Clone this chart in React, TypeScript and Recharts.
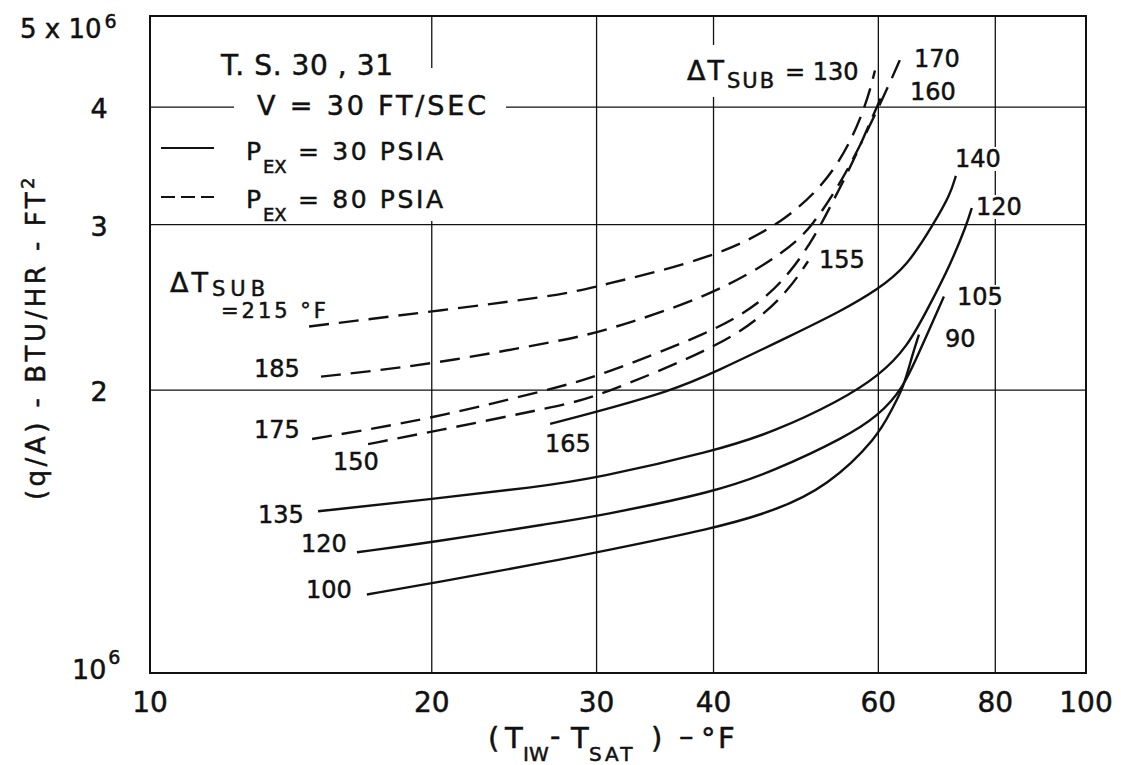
import React from 'react';
import { LineChart, Line, XAxis, YAxis, CartesianGrid } from 'recharts';

const W = 1121;
const H = 765;
const font = "'DejaVu Sans', sans-serif";

// axes: (T_IW - T_SAT) in deg F, q/A in units of 10^6 BTU/HR-FT^2
const xTicks = [10, 20, 30, 40, 60, 80, 100];
const yTicks = [1, 2, 3, 4, 5];

// P_EX = 30 PSIA (solid); names give subcooling at the start -> end of each curve
const x100 = [17.05, 19.96, 27.42, 30, 40.05, 46.4, 53, 59.95, 62.03, 63.76, 65.2, 66.3];
const q100 = [1.212, 1.245, 1.32, 1.344, 1.425, 1.486, 1.58, 1.783, 1.91, 2.006, 2.176, 2.291];

const x120 = [16.64, 19.96, 27.22, 30, 40.05, 46.4, 55.4, 59.95, 63.76, 66.6, 70.5];
const q120 = [1.344, 1.377, 1.446, 1.468, 1.557, 1.64, 1.783, 1.877, 2.006, 2.214, 2.515];

const x135 = [15.12, 19.96, 25.85, 30, 40.05, 46.4, 54.6, 60.1, 64.4, 67.96, 71.6, 74.6, 75.5];
const q135 = [1.486, 1.531, 1.577, 1.612, 1.722, 1.805, 1.948, 2.072, 2.219, 2.455, 2.716, 3.003, 3.124];

const x165 = [26.76, 30, 36.03, 40.05, 48.63, 54.6, 59.95, 64.4, 68.6, 71.6, 72.6];
const q165 = [1.841, 1.896, 1.996, 2.087, 2.291, 2.424, 2.559, 2.709, 2.995, 3.226, 3.38];

// P_EX = 80 PSIA (dashed)
const x215 = [14.79, 19.96, 27.42, 30, 40.05, 47.93, 54.2, 58.07, 59.5];
const q215 = [2.337, 2.424, 2.522, 2.578, 2.763, 3.025, 3.421, 3.976, 4.375];

const x185 = [15.23, 19.96, 27.42, 30, 40.05, 47.93, 51.09, 54.6, 57.35, 59.8, 61.75, 63.3];
const q185 = [2.067, 2.128, 2.258, 2.297, 2.522, 2.81, 2.995, 3.314, 3.638, 3.965, 4.249, 4.495];

const x175 = [14.9, 19.96, 27.42, 30, 40.05, 44.84, 48.28, 51.35, 53.9, 56.66, 58.76, 60.54];
const q175 = [1.774, 1.863, 2.016, 2.067, 2.308, 2.474, 2.662, 2.915, 3.202, 3.533, 3.851, 4.115];

const x150 = [17.1, 19.96, 27.42, 30, 40.05, 44.84, 48.28, 50.47];
const q150 = [1.752, 1.805, 1.924, 1.967, 2.214, 2.383, 2.566, 2.742];

const pts = (xs: number[], ys: number[]) => xs.map((x, i) => ({ x, y: ys[i] }));

const solid = [
  { id: 's100', data: pts(x100, q100) },
  { id: 's120', data: pts(x120, q120) },
  { id: 's135', data: pts(x135, q135) },
  { id: 's165', data: pts(x165, q165) },
];
const dashed = [
  { id: 'd215', data: pts(x215, q215) },
  { id: 'd185', data: pts(x185, q185) },
  { id: 'd175', data: pts(x175, q175) },
  { id: 'd150', data: pts(x150, q150) },
];

// pen-lettering look: thin outline on the glyphs
const ink = { fill: '#111', stroke: '#111', strokeWidth: 0.5 };

function XTick({ x, payload }: any) {
  return (
    <text x={x} y={712} textAnchor="middle" fontSize={28} fontFamily={font} {...ink}>
      {payload.value}
    </text>
  );
}

function YTick({ y, payload }: any) {
  const v = payload.value;
  if (v === 5) {
    return (
      <text x={20} y={y + 22} fontSize={26} fontFamily={font} {...ink}>
        5 x 10<tspan dx={3} dy={-10} fontSize={19}>6</tspan>
      </text>
    );
  }
  if (v === 1) {
    return (
      <text x={72} y={y + 6} fontSize={27} fontFamily={font} {...ink}>
        10<tspan dx={2} dy={-15} fontSize={19}>6</tspan>
      </text>
    );
  }
  return (
    <text x={99} y={y + 11} textAnchor="middle" fontSize={27} fontFamily={font} {...ink}>
      {v}
    </text>
  );
}

const curveLabels = [
  { t: '185', x: 254, y: 377 },
  { t: '175', x: 254, y: 438 },
  { t: '150', x: 333, y: 470 },
  { t: '135', x: 258, y: 523 },
  { t: '120', x: 301, y: 552 },
  { t: '100', x: 306, y: 598 },
  { t: '165', x: 545, y: 452 },
  { t: '155', x: 819, y: 268 },
  { t: '170', x: 914, y: 67 },
  { t: '160', x: 910, y: 100 },
  { t: '140', x: 955, y: 167, bg: true },
  { t: '120', x: 976, y: 215, bg: true },
  { t: '105', x: 957, y: 305, bg: true },
  { t: '90', x: 945, y: 347 },
];

function Overlay() {
  return (
    <svg width={W} height={H} fontFamily={font} fill="#111"
      style={{ position: 'absolute', left: 0, top: 0, pointerEvents: 'none' }}>
      {/* blank areas behind the lettering, as on the drafted sheet */}
      <rect x={234} y={68} width={272} height={153} fill="#fff" />
      <rect x={684} y={45} width={176} height={52} fill="#fff" />
      {curveLabels.filter(l => l.bg).map((l, i) => (
        <rect key={i} x={l.x - 2} y={l.y - 20} width={46} height={24} fill="#fff" />
      ))}
      <rect x={150} y={16} width={936} height={657} fill="none" stroke="#111" strokeWidth={2} />

      <g {...ink}>
        <text x={221} y={75} fontSize={28} textLength={172} lengthAdjust="spacing">T. S. 30 , 31</text>
        <text x={257} y={115} fontSize={27} textLength={229} lengthAdjust="spacing">V = 30 FT/SEC</text>

        <text x={246} y={160} fontSize={25}>P</text>
        <text x={263} y={173} fontSize={18}>EX</text>
        <text x={298} y={160} fontSize={25} textLength={145} lengthAdjust="spacing">= 30 PSIA</text>

        <text x={246} y={208} fontSize={25}>P</text>
        <text x={263} y={221} fontSize={18}>EX</text>
        <text x={298} y={208} fontSize={25} textLength={145} lengthAdjust="spacing">= 80 PSIA</text>

        <text x={170} y={292} fontSize={27} letterSpacing={3}>ΔT</text>
        <text x={212} y={296} fontSize={21} letterSpacing={5}>SUB</text>
        <text x={221} y={318} fontSize={21} letterSpacing={3}>=215 °F</text>

        <text x={687} y={80} fontSize={27} letterSpacing={2}>ΔT</text>
        <text x={727} y={88} fontSize={21} letterSpacing={2}>SUB</text>
        <text x={785} y={80} fontSize={24}>= 130</text>

        {curveLabels.map((l, i) => (
          <text key={i} x={l.x} y={l.y} fontSize={24}>{l.t}</text>
        ))}

        <text transform="rotate(-90 45 337)" x={45} y={337} textAnchor="middle" fontSize={26} letterSpacing={3.5}>
          (q/A) - BTU/HR - FT<tspan dy={-11} fontSize={18}>2</tspan>
        </text>

        <text fontSize={29}>
          <tspan x={488} y={748}>(</tspan>
          <tspan x={505} y={748}>T</tspan>
          <tspan x={523} y={761} fontSize={20}>IW</tspan>
          <tspan x={550} y={746}>-</tspan>
          <tspan x={571} y={748}>T</tspan>
          <tspan x={589} y={761} fontSize={20} letterSpacing={3}>SAT</tspan>
          <tspan x={651} y={748}>)</tspan>
          <tspan x={679} y={746}>–</tspan>
          <tspan x={701} y={748}>°</tspan>
          <tspan x={718} y={748}>F</tspan>
        </text>
      </g>

      <line x1={161} y1={148} x2={214} y2={148} stroke="#111" strokeWidth={2.2} />
      <line x1={161} y1={197} x2={214} y2={197} stroke="#111" strokeWidth={2.2} strokeDasharray="14 6" />
    </svg>
  );
}

export default function App() {
  return (
    <div style={{ position: 'absolute', left: 0, top: 0, width: W, height: H, background: '#fff' }}>
      <LineChart width={W} height={H} margin={{ top: 16, right: 35, bottom: 0, left: 0 }}>
        <CartesianGrid stroke="#111" strokeWidth={1.3} />
        <XAxis dataKey="x" type="number" scale="log" domain={[10, 100]} ticks={xTicks} interval={0}
          allowDataOverflow height={92} axisLine={false} tickLine={false} tick={(p: any) => <XTick {...p} />} />
        <YAxis type="number" scale="log" domain={[1, 5]} ticks={yTicks} interval={0}
          allowDataOverflow width={150} axisLine={false} tickLine={false} tick={(p: any) => <YTick {...p} />} />
        {solid.map(s => (
          <Line key={s.id} data={s.data} dataKey="y" type="basis" stroke="#111" strokeWidth={2.4}
            dot={false} isAnimationActive={false} />
        ))}
        {dashed.map(s => (
          <Line key={s.id} data={s.data} dataKey="y" type="basis" stroke="#111" strokeWidth={2.4}
            strokeDasharray="20 10" dot={false} isAnimationActive={false} />
        ))}
      </LineChart>
      <Overlay />
    </div>
  );
}
